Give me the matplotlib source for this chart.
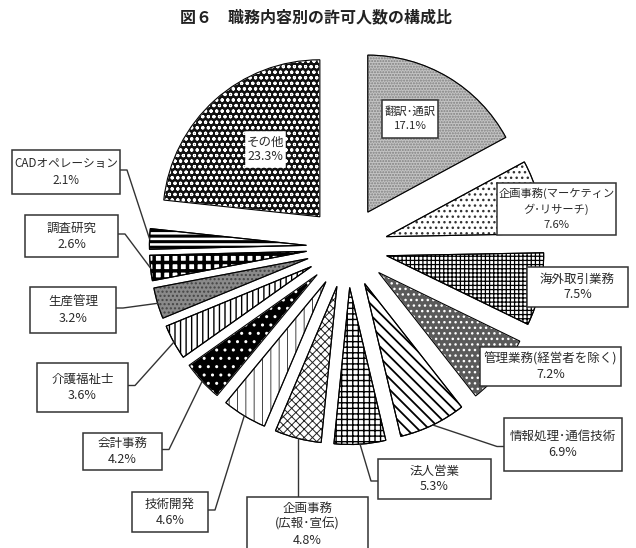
import numpy as np
import matplotlib
matplotlib.use("Agg")
import matplotlib.pyplot as plt
from matplotlib.patches import Rectangle, Wedge

plt.rcParams['font.family'] = ['Noto Sans CJK JP', 'DejaVu Sans']

# ---------------- data ----------------
categories = ["翻訳･通訳", "企画事務(マーケティン\nグ･リサーチ)", "海外取引業務",
              "管理業務(経営者を除く)", "情報処理･通信技術", "法人営業",
              "企画事務\n(広報･宣伝)", "技術開発", "会計事務", "介護福祉士",
              "生産管理", "調査研究", "CADオペレーション", "その他"]
shares = [17.1, 7.6, 7.5, 7.2, 6.9, 5.3, 4.8, 4.6, 4.2, 3.6, 3.2, 2.6, 2.1, 23.3]
title = "図６　職務内容別の許可人数の構成比"

# ---------------- styles ----------------
W, H = 636, 548
fig = plt.figure(figsize=(W / 100, H / 100), dpi=100)
ax = fig.add_axes([0, 0, 1, 1])

def Y(y):
    return H - y

cx, cy, R, EXP = 347, 247, 157, 40.6
styles = [
    dict(fc="#c4c4c4", hatch="......", hc="#808080"),
    dict(fc="white", hatch="...", hc="#333333"),
    dict(fc="white", hatch="++++", hc="black", lw=0.9),
    dict(fc="#5a5a5a", hatch="...", hc="white"),
    dict(fc="white", hatch="\\\\\\", hc="black", lw=1.3),
    dict(fc="white", hatch="+++", hc="black", lw=1.0),
    dict(fc="white", hatch="xxxx", hc="#222222", lw=0.7),
    dict(fc="white", hatch="||", hc="#444444", lw=0.7),
    dict(fc="black", hatch="..", hc="white"),
    dict(fc="white", hatch="|||", hc="black"),
    dict(fc="#8a8a8a", hatch="....", hc="#444444"),
    dict(fc="white", hatch="++", hc="black", lw=2.5),
    dict(fc="white", hatch="---", hc="black", lw=2.2),
    dict(fc="#111111", hatch="ooo", hc="white", lw=0.8),
]

wedges, _ = ax.pie(shares, startangle=90, counterclock=False, radius=R,
                   center=(cx, Y(cy)), explode=[EXP] * len(shares),
                   wedgeprops=dict(edgecolor="black", linewidth=0.8))
for w, st in zip(wedges, styles):
    w.set_facecolor(st["fc"])
    w.set_hatch(st["hatch"])
    try:
        w.set_hatchcolor(st["hc"])
    except Exception:
        w.set_edgecolor(st["hc"])
    try:
        w.set_hatch_linewidth(st.get("lw", 1.0))
    except Exception:
        pass
    ax.add_patch(Wedge(w.center, w.r, w.theta1, w.theta2,
                       facecolor="none", edgecolor="black", linewidth=0.8))

ax.set_xlim(0, W)
ax.set_ylim(0, H)
ax.set_aspect("auto")
ax.axis("off")

# anchor points on the outer arc at mid-angle
total = sum(shares)
cum = np.cumsum([0] + shares[:-1])
anchors = []
for c, s in zip(cum, shares):
    a = np.deg2rad((c + s / 2) / total * 360)
    dx, dy = np.sin(a), np.cos(a)
    anchors.append((cx + (EXP + R) * dx, cy - (EXP + R) * dy))

# label boxes (pixel layout: x0, y0, x1, y1, leader type, text size, line step)
boxes = [
    (382, 100, 438, 138, None, 8.2, 14),
    (497, 183, 616, 235, None, 8.1, 16),
    (527, 267, 628, 307, None, 9, 16),
    (480, 347, 621, 386, None, 9, 16),
    (504, 418, 622, 471, "L", 9, 16),
    (378, 459, 491, 499, "L", 9, 16),
    (247, 497, 368, 570, "T", 9, 16),
    (132, 492, 208, 532, "R", 9, 16),
    (83, 433, 162, 470, "R", 9, 16),
    (37, 363, 128, 412, "R", 9, 16),
    (30, 287, 116, 333, "R", 9, 16),
    (25, 215, 118, 257, "R", 9, 16),
    (12, 150, 120, 194, "R", 8.4, 16),
    (246, 132, 285, 167, None, 9, 14),
]
tcol = "#2a2a2a"
for i, (name, val, b) in enumerate(zip(categories, shares, boxes)):
    x0, y0, x1, y1, kind, fs, step = b
    border = "#333333" if i != 13 else "white"
    ax.add_patch(Rectangle((x0, Y(y1)), x1 - x0, y1 - y0, facecolor="white",
                           edgecolor=border, linewidth=1.1, zorder=5))
    lines = name.split("\n") + [f"{val:.1f}%"]
    n = len(lines)
    ymid = (y0 + y1) / 2 if kind != "T" else y0 + 27
    for k, ln in enumerate(lines):
        yy = ymid + (k - (n - 1) / 2) * step
        ax.text((x0 + x1) / 2, Y(yy), ln, ha="center", va="center",
                fontsize=fs, color=tcol, zorder=6)
    if kind is None:
        continue
    axp, ayp = anchors[i]
    if kind == "R":
        ym = (y0 + y1) / 2 - 2
        xs = [axp, x1 + 7, x1]
        ys = [ayp, ym, ym]
    elif kind == "L":
        ym = (y0 + y1) / 2 + 2
        xs = [axp, x0 - 7, x0]
        ys = [ayp, ym, ym]
    else:
        xs = [axp, axp]
        ys = [ayp, y0]
    ax.plot(xs, [Y(v) for v in ys], color="#333333", linewidth=1.0, zorder=4)

fig.text(316 / W, 1 - 17 / H, title, ha="center", va="center",
         fontsize=11.5, fontweight="bold", color="#222222")

fig.savefig("out.png", dpi=100)
